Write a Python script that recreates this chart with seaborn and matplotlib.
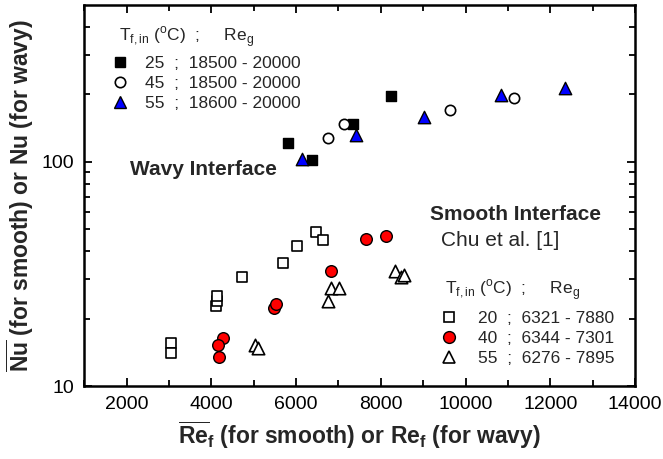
import matplotlib
matplotlib.use("Agg")
import matplotlib.pyplot as plt
import seaborn as sns
import numpy as np
from matplotlib.ticker import FixedLocator, NullFormatter, FixedFormatter
from matplotlib.lines import Line2D

sns.set_theme(style="white")
plt.rcParams['font.family'] = ['Liberation Sans', 'DejaVu Sans']
plt.rcParams['mathtext.fontset'] = 'custom'
plt.rcParams['mathtext.rm'] = 'Liberation Sans'
plt.rcParams['mathtext.bf'] = 'Liberation Sans:bold'

# Wavy interface (present data)
wavy25_x = [5800, 6380, 7350, 8250]
wavy25_y = [121, 102, 147, 197]
wavy45_x = [6760, 7140, 9620, 11130]
wavy45_y = [128, 147, 170, 192]
wavy55_x = [6140, 7420, 9020, 10840, 12350]
wavy55_y = [103, 131, 158, 198, 214]

# Smooth interface (Chu et al. [1])
smooth20_x = [3040, 3040, 4100, 4130, 4140, 4730, 5680, 6020, 6480, 6630]
smooth20_y = [15.5, 14.1, 22.7, 23.9, 25.2, 30.6, 35.4, 42.2, 48.4, 44.8]
smooth40_x = [4280, 4150, 4170, 5480, 5530, 6830, 7640, 8120]
smooth40_y = [16.35, 15.2, 13.5, 22.3, 23.1, 32.7, 45.2, 46.9]
smooth55_x = [5030, 5100, 6750, 6830, 7010, 8340, 8470, 8550]
smooth55_y = [15.25, 14.85, 24.0, 27.3, 27.3, 32.6, 30.6, 31.2]

wavy_labels = ["25  ;  18500 - 20000", "45  ;  18500 - 20000", "55  ;  18600 - 20000"]
smooth_labels = ["20  ;  6321 - 7880", "40  ;  6344 - 7301", "55  ;  6276 - 7895"]

x_ticks = [2000, 4000, 6000, 8000, 10000, 12000, 14000]

fig = plt.figure(figsize=(6.63, 4.59), dpi=100)
ax = fig.add_axes([0.127, 0.159, 0.831, 0.830])

ms = 55
sns.scatterplot(x=wavy25_x, y=wavy25_y, marker='s', color='black', edgecolor='black',
                s=ms, linewidth=1, ax=ax, zorder=3)
sns.scatterplot(x=wavy45_x, y=wavy45_y, marker='o', color='white', edgecolor='black',
                s=ms, linewidth=1.2, ax=ax, zorder=3)
sns.scatterplot(x=wavy55_x, y=wavy55_y, marker='^', color='#0000ff', edgecolor='black',
                s=80, linewidth=1, ax=ax, zorder=3)
sns.scatterplot(x=smooth20_x, y=smooth20_y, marker='s', color='white', edgecolor='black',
                s=ms, linewidth=1.2, ax=ax, zorder=3)
sns.scatterplot(x=smooth40_x, y=smooth40_y, marker='o', color='#ff0000', edgecolor='black',
                s=70, linewidth=1, ax=ax, zorder=3)
sns.scatterplot(x=smooth55_x, y=smooth55_y, marker='^', color='white', edgecolor='black',
                s=80, linewidth=1.2, ax=ax, zorder=3)

ax.set_yscale('log')
ax.set_xlim(1000, 14000)
ax.set_ylim(10, 500)

ax.xaxis.set_major_locator(FixedLocator(x_ticks))
ax.xaxis.set_minor_locator(FixedLocator([1000, 3000, 5000, 7000, 9000, 11000, 13000]))
ax.yaxis.set_major_locator(FixedLocator([10, 100]))
ax.yaxis.set_major_formatter(FixedFormatter(["10", "100"]))
ax.yaxis.set_minor_locator(FixedLocator([20, 30, 40, 50, 60, 70, 80, 90, 200, 300, 400]))
ax.yaxis.set_minor_formatter(NullFormatter())

ax.tick_params(axis='both', which='both', direction='in', top=True, right=True,
               bottom=True, left=True, colors='black', labelsize=14, width=1.3)
ax.tick_params(which='major', length=6, pad=7)
ax.tick_params(which='minor', length=4)
for sp in ax.spines.values():
    sp.set_color('black')
    sp.set_linewidth(1.8)

ax.set_xlabel(r"$\overline{\mathbf{Re}}_\mathbf{f}$ (for smooth) or Re$_\mathbf{f}$ (for wavy)",
              fontsize=16.5, fontweight='bold', labelpad=5)
ax.set_ylabel(r"$\overline{\mathbf{Nu}}$ (for smooth) or Nu (for wavy)",
              fontsize=16.5, fontweight='bold', labelpad=4)

ax.text(2080, 92, "Wavy Interface", fontsize=15, fontweight='bold', va='center', ha='left')
ax.text(9150, 58, "Smooth Interface", fontsize=15, fontweight='bold', va='center', ha='left')
ax.text(9430, 44.5, "Chu et al. [1]", fontsize=15, va='center', ha='left')

header = r"T$_{\rm f,in}$ ($^{\rm o}$C)  ;     Re$_{\rm g}$"
ax.text(0.063, 0.915, header, transform=ax.transAxes, fontsize=12.5, va='center', ha='left')
ax.text(0.655, 0.252, header, transform=ax.transAxes, fontsize=12.5, va='center', ha='left')

h_wavy = [
    Line2D([], [], ls='', marker='s', mfc='black', mec='black', ms=7.5),
    Line2D([], [], ls='', marker='o', mfc='white', mec='black', ms=7.5, mew=1.2),
    Line2D([], [], ls='', marker='^', mfc='#0000ff', mec='black', ms=9),
]
leg1 = ax.legend(h_wavy, wavy_labels, loc='upper left',
                 bbox_to_anchor=(0.053, 0.866), frameon=False, fontsize=12.5,
                 handlelength=0.8, handletextpad=1.0, borderaxespad=0,
                 labelspacing=0.28, borderpad=0)
ax.add_artist(leg1)

h_smooth = [
    Line2D([], [], ls='', marker='s', mfc='white', mec='black', ms=7.5, mew=1.2),
    Line2D([], [], ls='', marker='o', mfc='#ff0000', mec='black', ms=8.5),
    Line2D([], [], ls='', marker='^', mfc='white', mec='black', ms=9, mew=1.2),
]
leg2 = ax.legend(h_smooth, smooth_labels, loc='lower left',
                 bbox_to_anchor=(0.650, 0.052), frameon=False, fontsize=12.5,
                 handlelength=0.8, handletextpad=1.25, borderaxespad=0,
                 labelspacing=0.28, borderpad=0)

fig.savefig("out.png", dpi=100)
